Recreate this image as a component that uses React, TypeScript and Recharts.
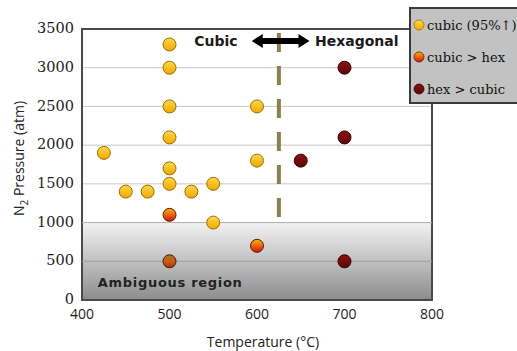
import React from "react";
import {
  ScatterChart,
  Scatter,
  XAxis,
  YAxis,
  CartesianGrid,
  ReferenceArea,
  ReferenceLine,
  ReferenceDot,
  Legend,
} from "recharts";

// temperature (°C) / N2 pressure (atm) pairs
const cubicT = [500, 500, 500, 600, 500, 425, 500, 600, 450, 475, 500, 525, 550, 550];
const cubicP = [3300, 3000, 2500, 2500, 2100, 1900, 1700, 1800, 1400, 1400, 1500, 1400, 1500, 1000];
const cubicHexT = [500, 600];
const cubicHexP = [1100, 700];
const mixedT = [500];
const mixedP = [500];
const hexCubicT = [700, 700, 650, 700];
const hexCubicP = [3000, 2100, 1800, 500];

const xTicks = [400, 500, 600, 700, 800];
const yTicks = [0, 500, 1000, 1500, 2000, 2500, 3000, 3500];
const legendNames = ["cubic (95%\u2191)", "cubic > hex", "hex > cubic"];

const toPoints = (t: number[], p: number[]) => t.map((x, i) => ({ x, y: p[i] }));

const cubic = toPoints(cubicT, cubicP);
const cubicHex = toPoints(cubicHexT, cubicHexP);
const mixed = toPoints(mixedT, mixedP);
const hexCubic = toPoints(hexCubicT, hexCubicP);

const dot = (grad: string, stroke: string) => (props: any) =>
  <circle cx={props.cx} cy={props.cy} r={6.5} fill={`url(#${grad})`} stroke={stroke} strokeWidth={1} />;

const arrowShape = (props: any) => {
  const { x1, x2, y1 } = props;
  const y = y1;
  const h = 11;
  const pts = [
    [x1, y], [x1 + h, y - 7], [x1 + h, y - 3], [x2 - h, y - 3], [x2 - h, y - 7],
    [x2, y], [x2 - h, y + 7], [x2 - h, y + 3], [x1 + h, y + 3], [x1 + h, y + 7],
  ].map((p) => p.join(",")).join(" ");
  return <polygon points={pts} fill="#000" />;
};

const textAt = (txt: string, anchor: "start" | "middle", size: number, spacing = 0, color = "#1a1a1a") =>
  (props: any) =>
    <text x={props.cx} y={props.cy} textAnchor={anchor} dominantBaseline="central"
      fontFamily="DejaVu Sans" fontWeight="bold" fontSize={size} letterSpacing={spacing} fill={color}>{txt}</text>;

const legendColors = [
  { g: "lgCubic", s: "#9a7000" },
  { g: "lgCH", s: "#5a1a00" },
  { g: "lgHex", s: "#3a0000" },
];

const LegendBox = () => (
  <div style={{
    width: 130, height: 93, background: "#c2c2c2", border: "2px solid #3a3a3a",
    boxSizing: "content-box", position: "relative",
  }}>
    {legendNames.map((n, i) => (
      <div key={n} style={{
        position: "absolute", left: 2, top: 7 + i * 32, height: 18, display: "flex", alignItems: "center",
        fontFamily: "DejaVu Serif", fontSize: 13, color: "#111", whiteSpace: "nowrap",
      }}>
        <svg width={13} height={12} style={{ marginRight: 1 }}>
          <circle cx={6} cy={6} r={5} fill={`url(#${legendColors[i].g})`} stroke={legendColors[i].s} strokeWidth={0.8} />
        </svg>
        {n}
      </div>
    ))}
  </div>
);

export default function App() {
  return (
    <div style={{ position: "absolute", left: 0, top: 0, width: 517, height: 351, background: "#fff", overflow: "hidden" }}>
      <ScatterChart width={517} height={351} margin={{ top: 29, right: 85, bottom: 0, left: 0 }}>
        <defs>
          <linearGradient id="gAmb" x1="0" y1="0" x2="0" y2="1">
            <stop offset="0%" stopColor="#f2f2f2" />
            <stop offset="50%" stopColor="#c0c0c0" />
            <stop offset="100%" stopColor="#8c8c8c" />
          </linearGradient>
          {["gCubic", "lgCubic"].map((id) => (
            <linearGradient key={id} id={id} x1="0" y1="0" x2="0" y2="1">
              <stop offset="0%" stopColor="#ffd84a" />
              <stop offset="100%" stopColor="#f0a800" />
            </linearGradient>
          ))}
          {["gCH", "lgCH"].map((id) => (
            <linearGradient key={id} id={id} x1="0" y1="0" x2="0" y2="1">
              <stop offset="0%" stopColor="#f4b800" />
              <stop offset="45%" stopColor="#f06a10" />
              <stop offset="100%" stopColor="#d01212" />
            </linearGradient>
          ))}
          <linearGradient id="gMix" x1="0" y1="0" x2="0" y2="1">
            <stop offset="0%" stopColor="#a07a20" />
            <stop offset="55%" stopColor="#c85a18" />
            <stop offset="100%" stopColor="#b02a10" />
          </linearGradient>
          {["gHex", "lgHex"].map((id) => (
            <linearGradient key={id} id={id} x1="0" y1="0" x2="0" y2="1">
              <stop offset="0%" stopColor="#8c1212" />
              <stop offset="100%" stopColor="#5c0606" />
            </linearGradient>
          ))}
        </defs>
        <CartesianGrid vertical={false} stroke="#c8c8c8" />
        <ReferenceArea x1={400} x2={800} y1={0} y2={1000} fill="url(#gAmb)" fillOpacity={1} stroke="none" />
        <ReferenceLine y={500} stroke="#9c9c9c" />
        <ReferenceLine y={1000} stroke="#b0b0b0" />
        <XAxis
          type="number"
          dataKey="x"
          domain={[400, 800]}
          ticks={xTicks}
          height={51}
          axisLine={false}
          tickLine={false}
          tick={{ fontFamily: "Open Sans", fontSize: 14, fill: "#222", dy: 1 }}
          label={{
            content: (p: any) => (
              <text x={p.viewBox.x + p.viewBox.width / 2 + 6} y={p.viewBox.y + 47} textAnchor="middle"
                fontFamily="Open Sans" fontSize={14} fill="#222">Temperature (°C)</text>
            ),
          }}
        />
        <YAxis
          type="number"
          dataKey="y"
          domain={[0, 3500]}
          ticks={yTicks}
          width={82}
          axisLine={false}
          tickLine={false}
          tick={{ fontFamily: "DejaVu Serif", fontSize: 14.5, fill: "#222", dy: -1 }}
          label={{
            content: (p: any) => {
              const x = p.viewBox.x + 24;
              const y = p.viewBox.y + p.viewBox.height / 2 - 6;
              return (
                <text x={x} y={y} transform={`rotate(-90 ${x} ${y})`} textAnchor="middle"
                  fontFamily="Open Sans" fontSize={14} fill="#222">
                  N<tspan dy={4} fontSize={10}>2</tspan><tspan dy={-4}> Pressure (atm)</tspan>
                </text>
              );
            },
          }}
        />
        <ReferenceLine segment={[{ x: 625, y: 3448 }, { x: 625, y: 1046 }]} stroke="#8d7f50"
          strokeWidth={4} strokeDasharray="19 14" />
        <ReferenceLine segment={[{ x: 594, y: 3345 }, { x: 660, y: 3345 }]} shape={arrowShape} />
        <ReferenceDot x={553} y={3345} r={0} shape={textAt("Cubic", "middle", 14)} />
        <ReferenceDot x={714} y={3345} r={0} shape={textAt("Hexagonal", "middle", 14)} />
        <ReferenceDot x={418} y={232} r={0} shape={textAt("Ambiguous region", "start", 13, 0.7, "#222")} />
        <Scatter name={legendNames[0]} data={cubic} fill="#f5b800" shape={dot("gCubic", "#9a7000")} isAnimationActive={false} />
        <Scatter name={legendNames[1]} data={cubicHex} fill="#e04010" shape={dot("gCH", "#5a1a00")} isAnimationActive={false} />
        <Scatter name="mixed" data={mixed} fill="#b06018" shape={dot("gMix", "#4a2000")} isAnimationActive={false} legendType="none" />
        <Scatter name={legendNames[2]} data={hexCubic} fill="#7a0a0a" shape={dot("gHex", "#3a0000")} isAnimationActive={false} />
        <ReferenceArea x1={400} x2={800} y1={0} y2={3500} fill="none" stroke="#4a4a4a" strokeWidth={2} ifOverflow="visible" />
        <Legend
          layout="vertical"
          align="center"
          verticalAlign="middle"
          content={() => <LegendBox />}
          wrapperStyle={{ left: 409, top: 7, width: 135 }}
        />
      </ScatterChart>
    </div>
  );
}
